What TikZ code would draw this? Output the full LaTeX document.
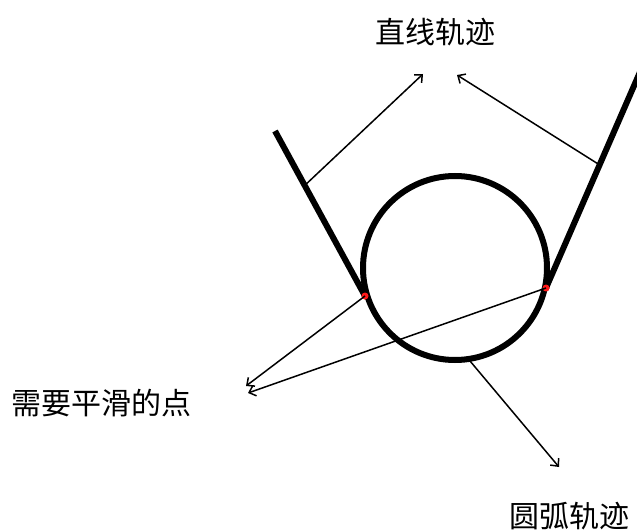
\documentclass[tikz,border=0pt]{standalone}
\usepackage{fontspec}
\newfontfamily\cjk{Noto Sans CJK SC}
\usepackage{tikz}
\usetikzlibrary{positioning, arrows.meta, calc}
\definecolor{tInk}{HTML}{000000}
\definecolor{tDot}{HTML}{FF1A1A}
\tikzset{
  track/.style={draw=tInk, line width=6pt},
  pointer/.style={draw=tInk, line width=1.5pt, -{Straight Barb[length=6pt, width=11pt, line width=1.5pt]}},
  joint/.style={circle, fill=tDot, inner sep=0pt, minimum size=7pt},
  label/.style={font=\cjk\fontsize{30}{32}\selectfont, text=tInk, inner sep=0pt},
}

\begin{document}
\begin{tikzpicture}[x=1pt, y=-1pt]
        \useasboundingbox (0,0) rectangle (637,532);
        % track: two straight pieces and the circle
        \coordinate (c) at (455,268);
        \coordinate (lt) at (275,131);
        \coordinate (rt) at (640,72);
        \node[joint] (pl) at (365,296) {};
        \node[joint] (pr) at (546,288) {};
        \draw[track] (lt) -- (pl.center);
        \draw[track] (rt) -- (pr.center);
        \draw[track] (c) circle[radius=92];
        \fill[tDot] (pl.center) circle[radius=3.5];
        \fill[tDot] (pr.center) circle[radius=3.5];
        % labels
        \node[label] (lineLabel) at (435,32) {直线轨迹};
        \node[label] (smoothLabel) at (102,403) {需要平滑的点};
        \node[label] (arcLabel) at (569,516) {圆弧轨迹};
        % pointers
        \coordinate (la) at ($(lt)!0.33!(pl.center)$);
        \coordinate (ra) at ($(rt)!0.43!(pr.center)$);
        \coordinate (ba) at (470,361);
        \coordinate (lineL) at (423,74);
        \coordinate (lineR) at (457,75);
        \coordinate (smoothA) at (246,386);
        \coordinate (smoothB) at (248,393);
        \coordinate (arcEnd) at (559,467);
        \draw[pointer] (la) -- (lineL);
        \draw[pointer] (ra) -- (lineR);
        \draw[pointer] (pl.center) -- (smoothA);
        \draw[pointer] (pr.center) -- (smoothB);
        \draw[pointer] (ba) -- (arcEnd);
\end{tikzpicture}
\end{document}
